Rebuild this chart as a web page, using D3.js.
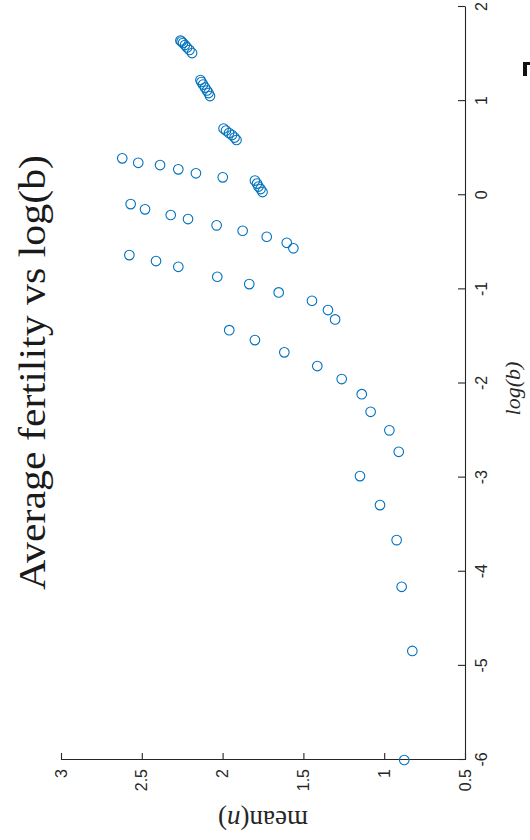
<!DOCTYPE html>
<html><head><meta charset="utf-8">
<script src="https://cdn.jsdelivr.net/npm/d3@7/dist/d3.min.js"></script>
<style>body{margin:0;background:#fff}svg{display:block}</style>
</head><body>
<svg id="chart" width="530" height="840"></svg>
<script>
// ---- data (log(b) vs mean(n)) ----
const clusterLogB = [1.644,1.633,1.617,1.596,1.570,1.543,1.511, 1.224,1.203,1.176,1.144,1.113,1.086,1.054, 0.709,0.688,0.661,0.640,0.613,0.587, 0.156,0.124,0.092,0.066,0.034];
const clusterMean = [2.261,2.254,2.245,2.233,2.220,2.205,2.189, 2.137,2.131,2.121,2.109,2.097,2.087,2.078, 1.994,1.979,1.960,1.942,1.926,1.914, 1.800,1.787,1.778,1.765,1.753];
const rowALogB = [0.392,0.345,0.321,0.275,0.233,0.190];
const rowAMean = [2.621,2.522,2.387,2.274,2.165,1.999];
const rowBLogB = [-0.094,-0.150,-0.210,-0.253,-0.320,-0.377,-0.441,-0.505,-0.564];
const rowBMean = [2.569,2.480,2.321,2.214,2.037,1.876,1.727,1.603,1.562];
const rowCLogB = [-0.636,-0.699,-0.760,-0.866,-0.944,-1.032,-1.121,-1.220,-1.319];
const rowCMean = [2.577,2.412,2.274,2.033,1.835,1.653,1.447,1.348,1.304];
const rowDLogB = [-1.433,-1.539,-1.669,-1.815,-1.953,-2.113,-2.301,-2.498,-2.726];
const rowDMean = [1.959,1.800,1.618,1.414,1.263,1.139,1.084,0.968,0.910];
const rowELogB = [-2.984,-3.292,-3.664,-4.160,-4.841,-6.0];
const rowEMean = [1.150,1.026,0.923,0.892,0.826,0.876];

const xTicks = [-6,-5,-4,-3,-2,-1,0,1,2];
const xTickLabels = ["-6","-5","-4","-3","-2","-1","0","1","2"];
const yTicks = [0.5,1,1.5,2,2.5,3];
const yTickLabels = ["0.5","1","1.5","2","2.5","3"];
const titleText = "Average fertility vs log(b)";

const groups = [
  [clusterLogB, clusterMean],
  [rowALogB, rowAMean],
  [rowBLogB, rowBMean],
  [rowCLogB, rowCMean],
  [rowDLogB, rowDMean],
  [rowELogB, rowEMean]
];
const points = [];
groups.forEach(([lb, mn]) => lb.forEach((v, i) => points.push({b: v, n: mn[i]})));

// ---- layout: chart drawn in normal orientation, then rotated -90deg ----
const W = 753, H = 404;
const svg = d3.select("#chart");
const g = svg.append("g").attr("transform", "translate(61,760) rotate(-90)");

const x = d3.scaleLinear().domain([-6, 2]).range([0, W]);
const y = d3.scaleLinear().domain([0.5, 3]).range([H, 0]);

const axisColor = "#262626";
const tickFont = "'Liberation Sans', Arial, sans-serif";

const yAxis = d3.axisLeft(y).tickValues(yTicks)
  .tickFormat((d, i) => yTickLabels[i])
  .tickSizeInner(-7).tickSizeOuter(0).tickPadding(9);
const xAxis = d3.axisBottom(x).tickValues(xTicks)
  .tickFormat((d, i) => xTickLabels[i])
  .tickSizeInner(-7).tickSizeOuter(0).tickPadding(11);

const gy = g.append("g").call(yAxis);
const gx = g.append("g").attr("transform", `translate(0,${H})`).call(xAxis);
[gx, gy].forEach(a => {
  a.select(".domain").attr("stroke", axisColor).attr("stroke-width", 1.1);
  a.selectAll(".tick line").attr("stroke", axisColor).attr("stroke-width", 1.1);
  a.selectAll(".tick text").attr("fill", axisColor)
    .style("font-family", tickFont).style("font-size", "16px");
});

// points
g.append("g").selectAll("circle").data(points).join("circle")
  .attr("cx", d => x(d.b)).attr("cy", d => y(d.n)).attr("r", 4.8)
  .attr("fill", "none").attr("stroke", "#0072BD").attr("stroke-width", 1.1);

// axis labels
g.append("text")
  .attr("x", W / 2 - 5).attr("y", H + 55)
  .attr("text-anchor", "middle")
  .style("font-family", "'Liberation Serif', 'DejaVu Serif', serif")
  .style("font-style", "italic").style("font-size", "22px")
  .attr("fill", axisColor).text("log(b)");

const yl = g.append("text")
  .attr("transform", `translate(-51,${H / 2}) rotate(-90)`)
  .attr("text-anchor", "middle")
  .style("font-family", "'Liberation Serif', 'DejaVu Serif', serif")
  .style("font-size", "27px").attr("fill", axisColor);
yl.append("tspan").text("mean(");
yl.append("tspan").style("font-style", "italic").text("n");
yl.append("tspan").text(")");

// title
g.append("text")
  .attr("x", W / 2 + 11).attr("y", -16)
  .attr("text-anchor", "middle")
  .attr("textLength", 435).attr("lengthAdjust", "spacingAndGlyphs")
  .style("font-family", "'Liberation Serif', 'DejaVu Serif', serif")
  .style("font-size", "37px").attr("fill", "#1a1a1a")
  .text(titleText);

// small clipped fragment at the top-right edge of the figure
svg.append("rect").attr("x", 523).attr("y", 62).attr("width", 4).attr("height", 14).attr("fill", "#111");
svg.append("rect").attr("x", 523).attr("y", 62).attr("width", 7).attr("height", 3).attr("fill", "#111");
</script>
</body></html>
